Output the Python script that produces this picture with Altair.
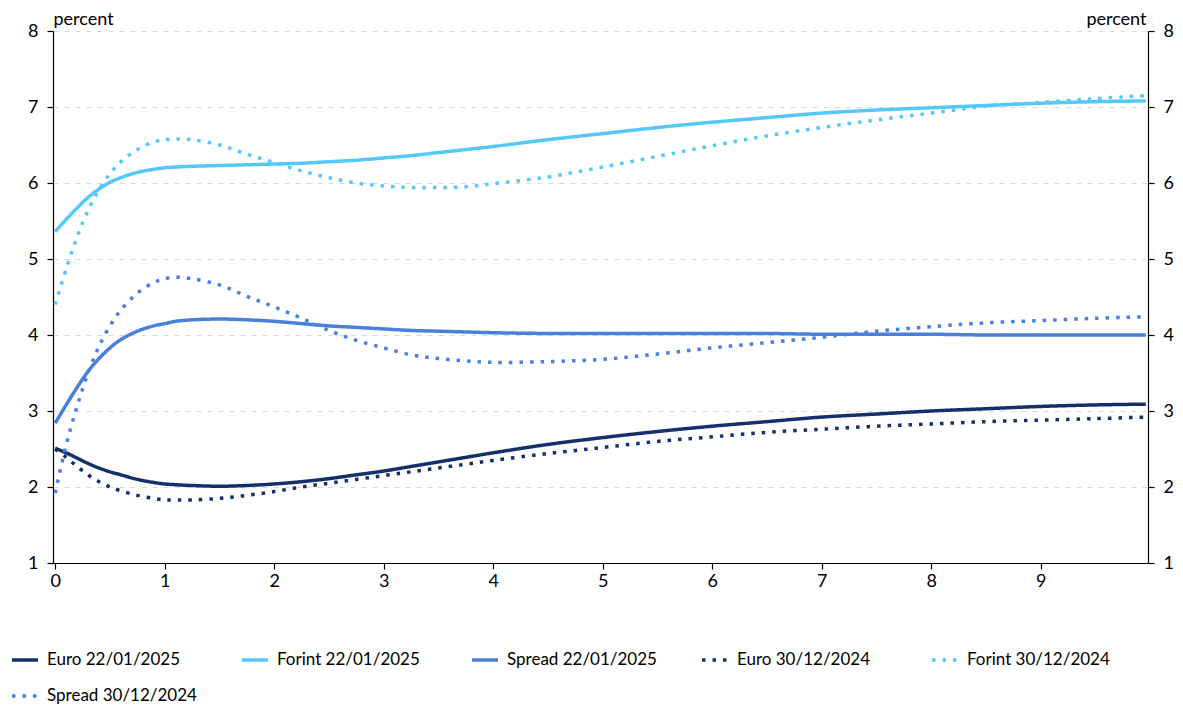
import altair as alt
import pandas as pd

# maturity (years)
x_years = [0, 0.1, 0.2, 0.3, 0.4, 0.5, 0.6, 0.75, 0.9, 1.0, 1.1, 1.25, 1.5, 1.75,
           2.0, 2.25, 2.5, 2.75, 3.0, 3.25, 3.5, 3.75, 4.0, 4.5, 5.0, 5.5, 6.0,
           6.5, 7.0, 7.5, 8.0, 8.5, 9.0, 9.5, 9.96]

euro_2201 = [2.51, 2.45, 2.38, 2.31, 2.25, 2.20, 2.16, 2.10, 2.06, 2.04, 2.03, 2.02, 2.01, 2.02,
             2.04, 2.07, 2.11, 2.16, 2.21, 2.27, 2.33, 2.39, 2.45, 2.56, 2.65, 2.73, 2.80,
             2.86, 2.92, 2.96, 3.00, 3.03, 3.06, 3.08, 3.09]
forint_2201 = [5.36, 5.52, 5.67, 5.81, 5.92, 6.01, 6.07, 6.14, 6.18, 6.20, 6.21, 6.22, 6.23, 6.24,
               6.25, 6.26, 6.28, 6.30, 6.33, 6.36, 6.40, 6.44, 6.48, 6.57, 6.65, 6.73, 6.80,
               6.86, 6.92, 6.96, 6.99, 7.02, 7.05, 7.07, 7.08]
spread_2201 = [2.84, 3.08, 3.31, 3.52, 3.69, 3.83, 3.94, 4.05, 4.12, 4.15, 4.18, 4.20, 4.21, 4.20,
               4.18, 4.15, 4.12, 4.10, 4.08, 4.06, 4.05, 4.04, 4.03, 4.02, 4.02, 4.02, 4.02,
               4.02, 4.01, 4.01, 4.01, 4.00, 4.00, 4.00, 4.00]
euro_3012 = [2.50, 2.39, 2.27, 2.16, 2.07, 2.00, 1.95, 1.89, 1.85, 1.83, 1.83, 1.83, 1.85, 1.89,
             1.94, 2.00, 2.05, 2.10, 2.15, 2.20, 2.25, 2.30, 2.35, 2.44, 2.52, 2.60, 2.66,
             2.72, 2.76, 2.80, 2.83, 2.86, 2.88, 2.90, 2.92]
forint_3012 = [4.40, 4.87, 5.29, 5.64, 5.91, 6.12, 6.28, 6.44, 6.54, 6.57, 6.58, 6.57, 6.50, 6.38,
               6.27, 6.16, 6.07, 6.00, 5.96, 5.94, 5.94, 5.95, 5.99, 6.08, 6.21, 6.35, 6.49,
               6.62, 6.73, 6.83, 6.92, 7.01, 7.06, 7.11, 7.15]
spread_3012 = [1.92, 2.55, 3.06, 3.50, 3.85, 4.12, 4.33, 4.55, 4.69, 4.74, 4.76, 4.74, 4.66, 4.51,
               4.37, 4.22, 4.06, 3.93, 3.83, 3.74, 3.69, 3.66, 3.64, 3.65, 3.68, 3.75, 3.83,
               3.90, 3.97, 4.05, 4.11, 4.16, 4.19, 4.22, 4.24]

series_names = ["Euro 22/01/2025", "Forint 22/01/2025", "Spread 22/01/2025",
                "Euro 30/12/2024", "Forint 30/12/2024", "Spread 30/12/2024"]
series_values = [euro_2201, forint_2201, spread_2201, euro_3012, forint_3012, spread_3012]
colors = ["#14306A", "#55C8FA", "#4A7FDE", "#14306A", "#55C8FA", "#4A7FDE"]
dashes = [[1, 0], [1, 0], [1, 0], [3.5, 7], [3.5, 7], [3.5, 7]]
x_ticks = list(range(10))
y_ticks = list(range(1, 9))

rows = []
for name, vals in zip(series_names, series_values):
    for xv, yv in zip(x_years, vals):
        rows.append({"maturity": xv, "value": yv, "series": name})
df = pd.DataFrame(rows)

FONT = "Lato"
xs = alt.Scale(domain=[-0.02, 9.98], nice=False, zero=False)
ys = alt.Scale(domain=[1, 8], nice=False, zero=False)

legend = alt.Legend(
    title=None, orient="none", legendX=-43, legendY=614, direction="horizontal",
    columns=5, symbolType="stroke", symbolSize=676, symbolStrokeWidth=3.5,
    labelFont=FONT, labelFontSize=17, labelColor="black", labelOffset=7,
    columnPadding=38, rowPadding=13, gridAlign="all", labelLimit=300,
)

common_axis = dict(
    labelFont=FONT, labelFontSize=18, labelColor="black",
    domainColor="black", domainWidth=1.2, tickColor="black", tickWidth=1.2,
    tickSize=6, titleFont=FONT, titleFontSize=18, titleFontWeight="normal",
    titleColor="black",
)

lines = alt.Chart(df).mark_line(strokeWidth=3.5, interpolate="catmull-rom", strokeCap="butt").encode(
    x=alt.X("maturity:Q", scale=xs,
            axis=alt.Axis(values=x_ticks, format="d", title=None, grid=False, labelPadding=3,
                          **common_axis)),
    y=alt.Y("value:Q", scale=ys,
            axis=alt.Axis(values=y_ticks, format="d", title="percent", titleAngle=0, titleX=0,
                          titleY=-7, titleAlign="left", titleBaseline="alphabetic",
                          grid=True, gridDash=[5, 6], gridColor="#d9d9d9", gridWidth=1,
                          labelPadding=9, **common_axis)),
    color=alt.Color("series:N", scale=alt.Scale(domain=series_names, range=colors), legend=legend),
    strokeDash=alt.StrokeDash("series:N", scale=alt.Scale(domain=series_names, range=dashes),
                              legend=legend),
    order=alt.Order("maturity:Q"),
)

right = alt.Chart(df).mark_point(opacity=0).encode(
    x=alt.X("maturity:Q", scale=xs),
    y=alt.Y("value:Q", scale=ys,
            axis=alt.Axis(orient="right", values=y_ticks, format="d", title="percent",
                          titleAngle=0, titleX=-2, titleY=-7, titleAlign="right",
                          titleBaseline="alphabetic", grid=False, labelPadding=9,
                          **common_axis)),
)

chart = alt.layer(lines, right).resolve_axis(y="independent").properties(
    width=1095, height=532,
    padding={"left": 45, "top": 23, "right": 27, "bottom": 145},
    autosize=alt.AutoSizeParams(type="none"),
    background="white",
).configure_view(stroke=None)

chart.save("out.html", embed_options={"renderer": "svg", "actions": False})
